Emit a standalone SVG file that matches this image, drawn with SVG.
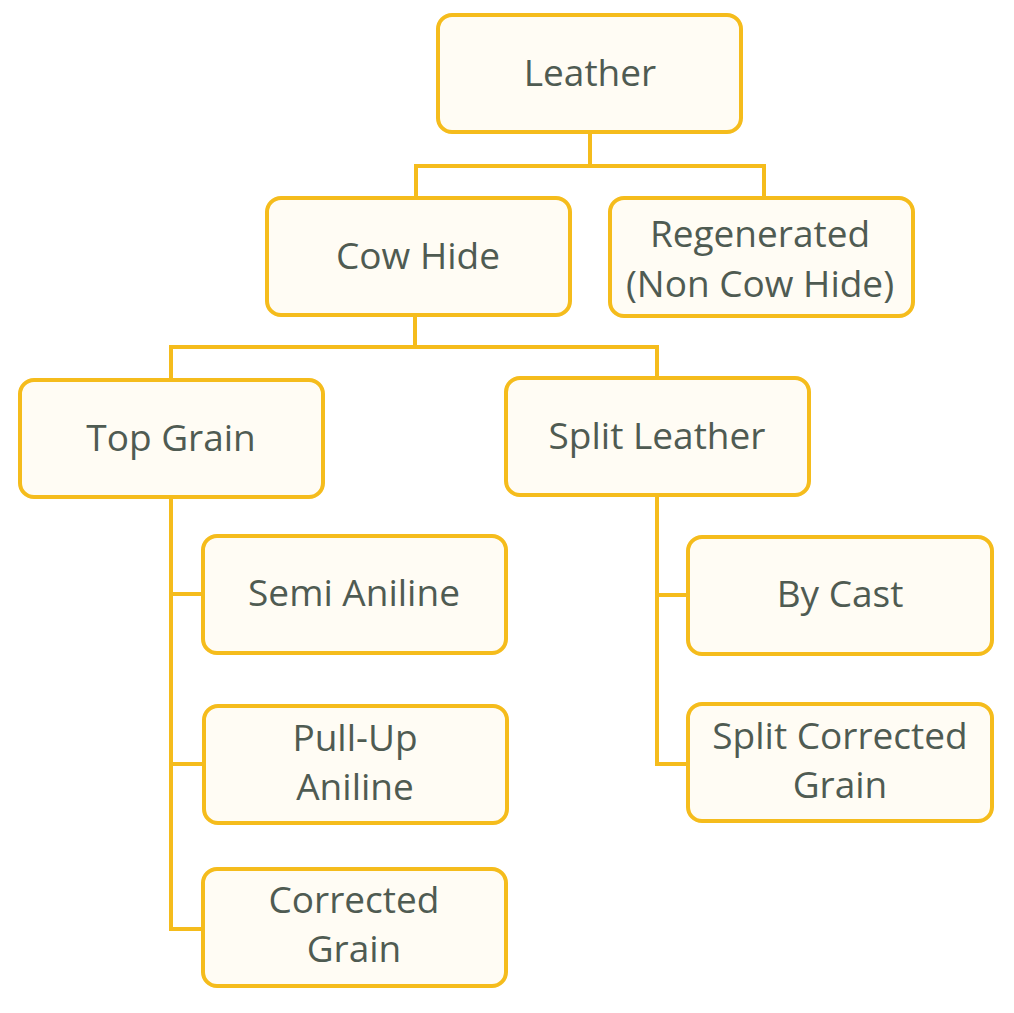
<svg xmlns="http://www.w3.org/2000/svg" width="1014" height="1013" viewBox="0 0 1014 1013">
<style>
.box{fill:#FFFCF4;stroke:#F5BC1C;stroke-width:4}
.lbl{font-family:"Open Sans","Noto Sans",sans-serif;font-size:37px;fill:#4F5B52;text-anchor:middle}
.con{fill:none;stroke:#F5BC1C;stroke-width:4}
</style>
<rect width="1014" height="1013" fill="#ffffff"/>
<g id="connectors" class="con">
<path d="M590 132V166M416 166H764M416 164V198M764 164V198"/>
<path d="M415 315V347M171 347H657M171 345V380M657 345V378"/>
<path d="M171 497V929M169 594H203M169 764H204M169 929H203"/>
<path d="M657 495V764M655 595H688M655 764H688"/>
</g>
<g id="leather"><rect class="box" x="438" y="15" width="303" height="117" rx="14"/><text class="lbl" x="590" y="86">Leather</text></g>
<g id="cowhide"><rect class="box" x="267" y="198" width="303" height="117" rx="14"/><text class="lbl" x="418" y="269">Cow Hide</text></g>
<g id="regenerated"><rect class="box" x="610" y="198" width="303" height="118" rx="14"/><text class="lbl" x="760" y="247">Regenerated</text><text class="lbl" x="760" y="297">(Non Cow Hide)</text></g>
<g id="topgrain"><rect class="box" x="20" y="380" width="303" height="117" rx="14"/><text class="lbl" x="171" y="451">Top Grain</text></g>
<g id="splitleather"><rect class="box" x="506" y="378" width="303" height="117" rx="14"/><text class="lbl" x="657" y="449">Split Leather</text></g>
<g id="semianiline"><rect class="box" x="203" y="536" width="303" height="117" rx="14"/><text class="lbl" x="354" y="606">Semi Aniline</text></g>
<g id="pullup"><rect class="box" x="204" y="706" width="303" height="117" rx="14"/><text class="lbl" x="355" y="751">Pull-Up</text><text class="lbl" x="355" y="800">Aniline</text></g>
<g id="correctedgrain"><rect class="box" x="203" y="869" width="303" height="117" rx="14"/><text class="lbl" x="354" y="913">Corrected</text><text class="lbl" x="354" y="962">Grain</text></g>
<g id="bycast"><rect class="box" x="688" y="537" width="304" height="117" rx="14"/><text class="lbl" x="840" y="607">By Cast</text></g>
<g id="splitcorrected"><rect class="box" x="688" y="704" width="304" height="117" rx="14"/><text class="lbl" x="840" y="749">Split Corrected</text><text class="lbl" x="840" y="798">Grain</text></g>
</svg>
